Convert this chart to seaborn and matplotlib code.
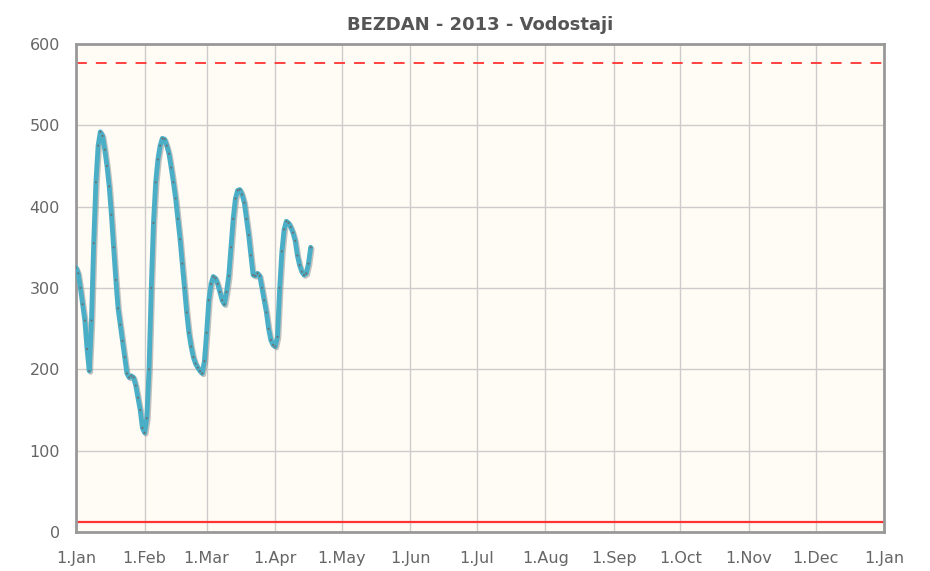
import matplotlib
matplotlib.use('Agg')
import matplotlib.pyplot as plt
import matplotlib.dates as mdates
import matplotlib.patheffects as pe
import pandas as pd
import seaborn as sns

# daily water levels (cm), 1 Jan 2013 onwards
levels = [325, 318, 300, 280, 260, 225, 198, 260, 355, 430,
          475, 492, 487, 470, 450, 425, 390, 350, 310, 275,
          255, 235, 215, 195, 190, 192, 190, 180, 165, 150,
          128, 122, 140, 200, 300, 380, 430, 458, 475, 484,
          483, 475, 465, 448, 430, 410, 385, 360, 330, 300,
          270, 245, 228, 215, 207, 202, 198, 195, 210, 245,
          285, 305, 314, 312, 305, 295, 285, 280, 295, 315,
          350, 385, 410, 420, 421, 415, 405, 385, 365, 340,
          316, 315, 318, 315, 300, 285, 270, 250, 236, 230,
          228, 240, 300, 345, 372, 382, 380, 375, 368, 358,
          340, 328, 320, 316, 318, 330, 350]
dates = pd.date_range('2013-01-01', periods=len(levels), freq='D')
upper_limit = 577
lower_limit = 12
title = 'BEZDAN - 2013 - Vodostaji'

df = pd.DataFrame({'date': dates, 'level': levels})

sns.set_style('white')
plt.rcParams['font.family'] = ['DejaVu Sans']

fig = plt.figure(figsize=(9.3, 5.71), dpi=100)
ax = fig.add_axes([0.0817, 0.0683, 0.869, 0.8546])
ax.set_facecolor('#fffcf5')

ax.axhline(upper_limit, color='#ff3333', lw=1.3, ls=(0, (6, 5)), zorder=2)
ax.axhline(lower_limit, color='#ff3333', lw=1.6, zorder=2)

sns.lineplot(data=df, x='date', y='level', ax=ax, color='#4aaec6', lw=3.5,
             marker='.', markersize=3, markerfacecolor='#6f6f6f',
             markeredgewidth=0, zorder=3)
ax.lines[-1].set_path_effects([
    pe.SimpleLineShadow(offset=(1, -1), shadow_color='#888888', alpha=0.5),
    pe.Normal()])

ax.set_xlim(pd.Timestamp('2013-01-01'), pd.Timestamp('2014-01-01'))
ax.set_ylim(0, 600)
ax.set_yticks(range(0, 601, 100))
ax.xaxis.set_major_locator(mdates.MonthLocator())
ax.xaxis.set_major_formatter(mdates.DateFormatter('%-d.%b'))

ax.grid(True, color='#cccccc', lw=1)
ax.set_axisbelow(True)
for s in ax.spines.values():
    s.set_color('#999999')
    s.set_linewidth(2)

ax.tick_params(axis='both', direction='out', length=8, width=1,
               color='#999999', labelcolor='#666666', labelsize=11.5)
ax.tick_params(axis='x', pad=6)
ax.set_xlabel('')
ax.set_ylabel('')
ax.set_title(title, fontsize=13, fontweight='bold', color='#555555', pad=10)

fig.savefig('out.png', dpi=100)
